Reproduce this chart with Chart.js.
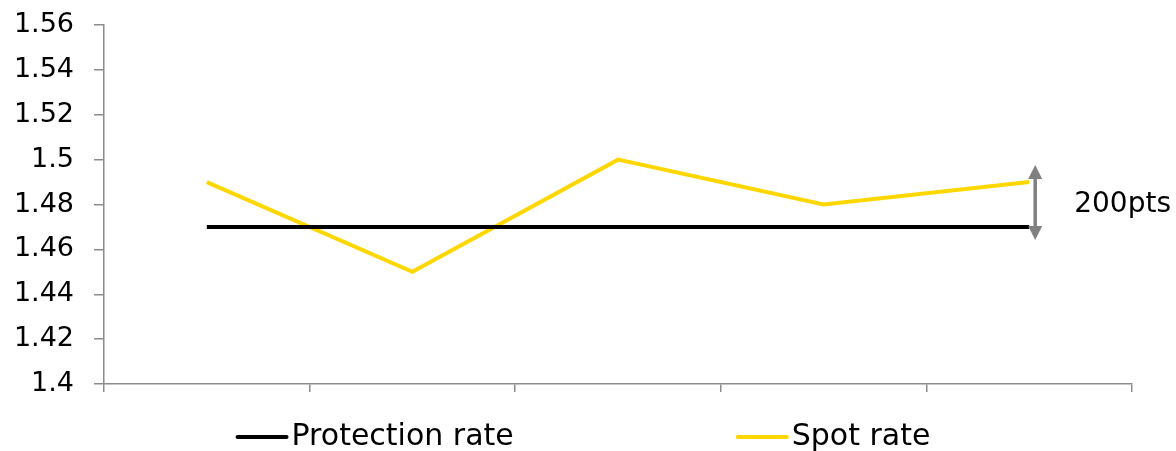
<!DOCTYPE html>
<html>
<head>
<meta charset="utf-8">
<script src="https://cdn.jsdelivr.net/npm/chart.js@4/dist/chart.umd.min.js"></script>
<style>
  html, body { margin: 0; padding: 0; background: #ffffff; }
  #wrap { width: 1176px; height: 451px; position: relative; }
</style>
</head>
<body>
<div id="wrap"><canvas id="c" width="1176" height="451"></canvas></div>
<script>
// Observation periods (not labelled on the axis)
const periods = ['P1', 'P2', 'P3', 'P4', 'P5'];
// Hedged rate locked in by the protection
const protectionRate = [1.47, 1.47, 1.47, 1.47, 1.47];
// Market spot rate over the same periods
const spotRate = [1.49, 1.45, 1.50, 1.48, 1.49];
// Value axis range
const yMin = 1.40;
const yMax = 1.56;
const yStep = 0.02;

const FONT = '"DejaVu Sans", "Liberation Sans", sans-serif';
const AXIS_GREY = '#8c8c8c';

// Custom legend row beneath the axis
const legendRow = {
  id: 'legendRow',
  afterDraw(chart) {
    const ctx = chart.ctx;
    const items = chart.data.datasets.map(ds => ({ label: ds.label, color: ds.borderColor }));
    ctx.save();
    ctx.font = '30px ' + FONT;
    ctx.textBaseline = 'middle';
    const lineLen = 53, gapText = 3, gapItems = 222;
    const widths = items.map(it => lineLen + gapText + ctx.measureText(it.label).width);
    const total = widths.reduce((a, b) => a + b, 0) + gapItems * (items.length - 1);
    let x = (chart.width - total) / 2 - 5;
    const y = 437;
    items.forEach((it, i) => {
      ctx.strokeStyle = it.color;
      ctx.lineWidth = 4;
      ctx.lineCap = 'round';
      ctx.beginPath();
      ctx.moveTo(x + 2, y);
      ctx.lineTo(x + lineLen - 2, y);
      ctx.stroke();
      ctx.fillStyle = '#000000';
      ctx.textAlign = 'left';
      ctx.fillText(it.label, x + lineLen + gapText, y);
      x += widths[i] + gapItems;
    });
    ctx.restore();
  }
};

// Double-headed arrow showing the spread on the final period
const spreadArrow = {
  id: 'spreadArrow',
  afterDatasetsDraw(chart) {
    const ctx = chart.ctx;
    const xs = chart.scales.x, ys = chart.scales.y;
    const last = periods.length - 1;
    const hi = spotRate[last], lo = protectionRate[last];
    const x = xs.getPixelForValue(last) + 6;
    const yHi = ys.getPixelForValue(hi);
    const yLo = ys.getPixelForValue(lo);
    const topTip = yHi - 17, botTip = yLo + 13;
    const headL = 14, headW = 7;
    ctx.save();
    ctx.strokeStyle = '#808080';
    ctx.fillStyle = '#808080';
    ctx.lineWidth = 3.5;
    ctx.beginPath();
    ctx.moveTo(x, topTip + headL - 2);
    ctx.lineTo(x, botTip - headL + 2);
    ctx.stroke();
    ctx.beginPath();
    ctx.moveTo(x, topTip);
    ctx.lineTo(x - headW, topTip + headL);
    ctx.lineTo(x + headW, topTip + headL);
    ctx.closePath();
    ctx.fill();
    ctx.beginPath();
    ctx.moveTo(x, botTip);
    ctx.lineTo(x - headW, botTip - headL);
    ctx.lineTo(x + headW, botTip - headL);
    ctx.closePath();
    ctx.fill();
    const pts = Math.round((hi - lo) * 10000);
    ctx.font = '28px ' + FONT;
    ctx.fillStyle = '#000000';
    ctx.textAlign = 'left';
    ctx.textBaseline = 'middle';
    ctx.fillText(pts + 'pts', x + 39, (yHi + yLo) / 2);
    ctx.restore();
  }
};

new Chart(document.getElementById('c'), {
  type: 'line',
  data: {
    labels: periods,
    datasets: [
      {
        label: 'Protection rate',
        data: protectionRate,
        borderColor: '#000000',
        backgroundColor: '#000000',
        borderWidth: 4,
        pointRadius: 0,
        tension: 0
      },
      {
        label: 'Spot rate',
        data: spotRate,
        borderColor: '#FFD700',
        backgroundColor: '#FFD700',
        borderWidth: 4,
        pointRadius: 0,
        tension: 0
      }
    ]
  },
  options: {
    responsive: false,
    animation: false,
    devicePixelRatio: 1,
    layout: { padding: { left: 0, right: 44, top: 25, bottom: 0 } },
    plugins: {
      legend: { display: false },
      tooltip: { enabled: false }
    },
    scales: {
      x: {
        type: 'category',
        offset: true,
        grid: {
          offset: true,
          drawOnChartArea: false,
          drawTicks: true,
          tickLength: 8,
          color: AXIS_GREY,
          lineWidth: 1.5
        },
        border: { display: true, color: AXIS_GREY, width: 1.5 },
        ticks: { display: false },
        afterFit(scale) { scale.height = 67; }
      },
      y: {
        min: yMin,
        max: yMax,
        grid: {
          drawOnChartArea: false,
          drawTicks: true,
          tickLength: 10,
          color: AXIS_GREY,
          lineWidth: 1.5
        },
        border: { display: true, color: AXIS_GREY, width: 1.5 },
        ticks: {
          stepSize: yStep,
          padding: 20,
          color: '#000000',
          font: { family: FONT, size: 27 },
          callback: v => String(parseFloat(Number(v).toFixed(2)))
        },
        afterFit(scale) {
          scale.width = 104;
          scale.paddingTop = 0;
          scale.paddingBottom = 0;
        }
      }
    }
  },
  plugins: [spreadArrow, legendRow]
});
</script>
</body>
</html>
